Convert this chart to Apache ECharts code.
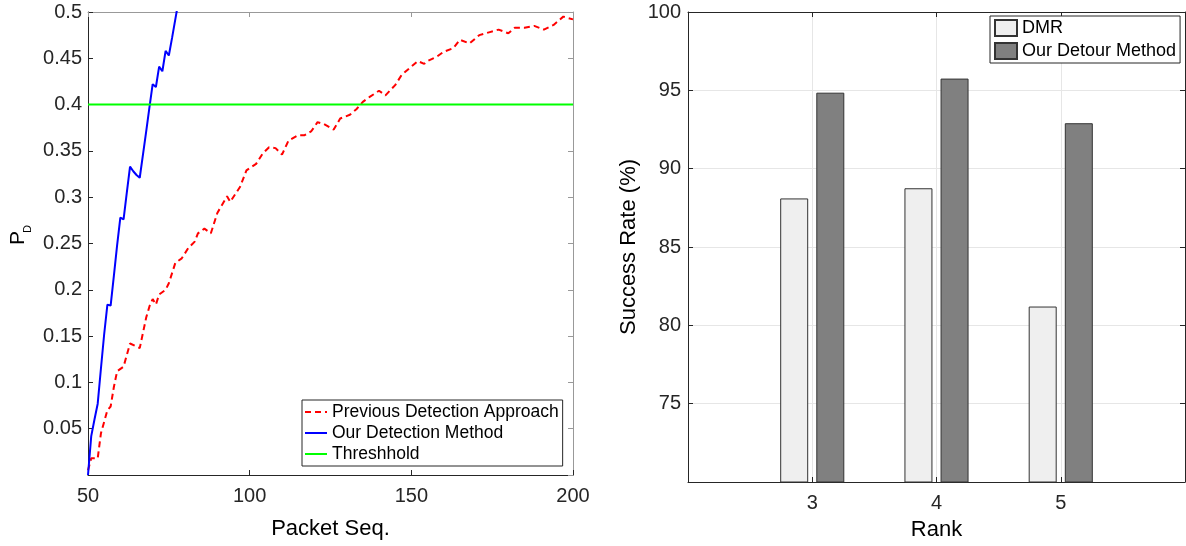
<!DOCTYPE html>
<html>
<head>
<meta charset="utf-8">
<script src="https://cdn.jsdelivr.net/npm/echarts@6/dist/echarts.min.js"></script>
<style>
html, body { margin: 0; padding: 0; background: #fff; }
#chart { width: 1186px; height: 546px; }
</style>
</head>
<body>
<div id="chart"></div>
<script>
// left panel: detection probability against packet sequence
var prevSeq = [50, 51, 53, 54, 56, 57, 58, 59, 61, 63, 66, 68, 69, 70, 71, 72, 74, 75, 77, 79,
    81, 83, 84, 86, 88, 90, 93, 94, 97, 99, 102, 104, 106, 108, 110, 112, 115, 117, 119, 121,
    123, 126, 128, 131, 133, 135, 137, 140, 142, 145, 147, 150, 152, 154, 155, 158, 160, 163, 165, 168,
    171, 174, 177, 180, 182, 185, 188, 191, 194, 197, 200];
var prevPd = [0.005, 0.018, 0.018, 0.045, 0.07, 0.074, 0.095, 0.112, 0.117, 0.142, 0.137, 0.17, 0.182, 0.19, 0.184, 0.195, 0.2, 0.207, 0.229, 0.234,
    0.245, 0.252, 0.261, 0.266, 0.261, 0.283, 0.301, 0.295, 0.311, 0.329, 0.336, 0.347, 0.354, 0.353, 0.346, 0.361, 0.367, 0.367, 0.371, 0.381,
    0.379, 0.373, 0.385, 0.389, 0.395, 0.403, 0.408, 0.415, 0.41, 0.421, 0.432, 0.441, 0.447, 0.444, 0.447, 0.452, 0.457, 0.461, 0.47, 0.466,
    0.475, 0.478, 0.481, 0.477, 0.483, 0.483, 0.485, 0.481, 0.486, 0.495, 0.492];

var ourSeq = [50, 51, 52, 53, 54, 55, 56, 57, 58, 59, 60, 61, 62, 63, 64, 65, 66, 67, 68, 69,
    70, 71, 72, 73, 74, 75, 76, 77, 78];
var ourPd = [0, 0.042, 0.06, 0.077, 0.115, 0.152, 0.184, 0.183, 0.215, 0.248, 0.278, 0.276, 0.305, 0.333, 0.328, 0.324, 0.321, 0.346, 0.371, 0.397,
    0.422, 0.419, 0.441, 0.436, 0.458, 0.453, 0.472, 0.492, 0.512];

var threshSeq = [50, 200];
var threshPd = [0.4, 0.4];

// right panel: success rate for each rank
var ranks = [3, 4, 5];
var dmrRate = [88.1, 88.75, 81.2];
var detourRate = [94.85, 95.75, 92.9];

var font = '"Liberation Sans", Arial, Helvetica, sans-serif';
var dark = '#262626';

function pairs(xs, ys) {
    var out = [];
    for (var i = 0; i < xs.length; i++) {
        out.push([xs[i], ys[i]]);
    }
    return out;
}

// box side (top / right): line + inward ticks, no labels
function boxAxis(grid, pos, min, max, step, color) {
    return {
        type: 'value', gridIndex: grid, position: pos,
        min: min, max: max, interval: step,
        axisLine: {show: true, onZero: false, lineStyle: {color: color, width: 1}},
        axisTick: {show: true, inside: true, length: 5, lineStyle: {color: color}},
        axisLabel: {show: false},
        splitLine: {show: false}
    };
}

var chart = echarts.init(document.getElementById('chart'));

var option = {
    animation: false,
    backgroundColor: '#fff',
    textStyle: {fontFamily: font},
    grid: [
        {left: 88, top: 12, width: 485, height: 463, outerBoundsMode: 'none'},
        {left: 688, top: 12, width: 497, height: 470, outerBoundsMode: 'none'}
    ],
    xAxis: [
        {
            type: 'value', gridIndex: 0, position: 'bottom',
            min: 50, max: 200, interval: 50,
            axisLine: {onZero: false, lineStyle: {color: dark}},
            axisTick: {inside: true, length: 5, lineStyle: {color: dark}},
            axisLabel: {fontSize: 20, color: dark, margin: 11, fontFamily: font},
            splitLine: {show: false},
            name: 'Packet Seq.', nameLocation: 'middle', nameGap: 43,
            nameTextStyle: {fontSize: 22, color: '#000', fontFamily: font}
        },
        boxAxis(0, 'top', 50, 200, 50, '#999'),
        {
            type: 'value', gridIndex: 1, position: 'bottom',
            min: 2, max: 6, interval: 1,
            axisLine: {onZero: false, lineStyle: {color: dark}},
            axisTick: {inside: true, length: 5, lineStyle: {color: dark}},
            axisLabel: {
                fontSize: 20, color: dark, margin: 11, fontFamily: font,
                formatter: function (v) { return (v > 2 && v < 6) ? String(v) : ''; }
            },
            splitLine: {show: true, lineStyle: {color: '#e6e6e6'}},
            name: 'Rank', nameLocation: 'middle', nameGap: 37,
            nameTextStyle: {fontSize: 22, color: '#000', fontFamily: font}
        },
        boxAxis(1, 'top', 2, 6, 1, dark)
    ],
    yAxis: [
        {
            type: 'value', gridIndex: 0, position: 'left',
            min: 0, max: 0.5, interval: 0.05,
            axisLine: {show: true, onZero: false, lineStyle: {color: dark}},
            axisTick: {show: true, inside: true, length: 5, lineStyle: {color: dark}},
            axisLabel: {
                fontSize: 20, color: dark, margin: 6, fontFamily: font,
                formatter: function (v) { return v === 0 ? '' : String(+v.toFixed(2)); }
            },
            splitLine: {show: false}
        },
        boxAxis(0, 'right', 0, 0.5, 0.05, '#999'),
        {
            type: 'value', gridIndex: 1, position: 'left',
            min: 70, max: 100, interval: 5,
            axisLine: {show: true, onZero: false, lineStyle: {color: dark}},
            axisTick: {show: true, inside: true, length: 5, lineStyle: {color: dark}},
            axisLabel: {
                fontSize: 20, color: dark, margin: 7, fontFamily: font,
                formatter: function (v) { return v === 70 ? '' : String(v); }
            },
            splitLine: {show: true, lineStyle: {color: '#e6e6e6'}},
            name: 'Success Rate (%)', nameLocation: 'middle', nameGap: 48,
            nameTextStyle: {fontSize: 22, color: '#000', fontFamily: font}
        },
        boxAxis(1, 'right', 70, 100, 5, dark)
    ],
    legend: [
        {
            data: ['Previous Detection Approach', 'Our Detection Method', 'Threshhold'],
            orient: 'vertical', left: 302, top: 400,
            itemWidth: 22, itemHeight: 14, itemGap: 3,
            padding: [3, 4, 3, 2],
            borderColor: dark, borderWidth: 1, borderRadius: 0,
            backgroundColor: '#fff',
            itemStyle: {opacity: 0},
            textStyle: {fontSize: 17.5, color: '#000', fontFamily: font}
        },
        {
            data: ['DMR', 'Our Detour Method'],
            orient: 'vertical', left: 990, top: 16,
            icon: 'rect',
            itemWidth: 22, itemHeight: 16, itemGap: 5,
            padding: [3, 4, 3, 4],
            borderColor: dark, borderWidth: 1, borderRadius: 0,
            backgroundColor: '#fff',
            textStyle: {fontSize: 18, color: '#000', fontFamily: font}
        }
    ],
    graphic: [
        {
            // y label P with subscript D
            type: 'group', x: 18, y: 238, rotation: Math.PI / 2,
            children: [
                {type: 'text', x: 0, y: 0, style: {text: 'P', fontSize: 21, fontFamily: font, fill: '#000', align: 'center', verticalAlign: 'middle'}},
                {type: 'text', x: 9, y: 10, style: {text: 'D', fontSize: 11, fontFamily: font, fill: '#000', align: 'center', verticalAlign: 'middle'}}
            ]
        }
    ],
    series: [
        {
            name: 'Previous Detection Approach', type: 'line',
            xAxisIndex: 0, yAxisIndex: 0,
            data: pairs(prevSeq, prevPd),
            symbol: 'none', clip: true,
            lineStyle: {color: '#ff0000', width: 2, type: [6, 4]},
            itemStyle: {color: '#ff0000'}
        },
        {
            name: 'Our Detection Method', type: 'line',
            xAxisIndex: 0, yAxisIndex: 0,
            data: pairs(ourSeq, ourPd),
            symbol: 'none', clip: true,
            lineStyle: {color: '#0000ff', width: 2},
            itemStyle: {color: '#0000ff'}
        },
        {
            name: 'Threshhold', type: 'line',
            xAxisIndex: 0, yAxisIndex: 0,
            data: pairs(threshSeq, threshPd),
            symbol: 'none', clip: true,
            lineStyle: {color: '#00ff00', width: 2},
            itemStyle: {color: '#00ff00'}
        },
        {
            name: 'DMR', type: 'bar',
            xAxisIndex: 2, yAxisIndex: 2,
            data: pairs(ranks, dmrRate),
            barWidth: 28, barGap: '29%',
            itemStyle: {color: '#efefef', borderColor: '#333', borderWidth: 1}
        },
        {
            name: 'Our Detour Method', type: 'bar',
            xAxisIndex: 2, yAxisIndex: 2,
            data: pairs(ranks, detourRate),
            barWidth: 28, barGap: '29%',
            itemStyle: {color: '#808080', borderColor: '#333', borderWidth: 1}
        }
    ]
};

chart.setOption(option);
</script>
</body>
</html>
